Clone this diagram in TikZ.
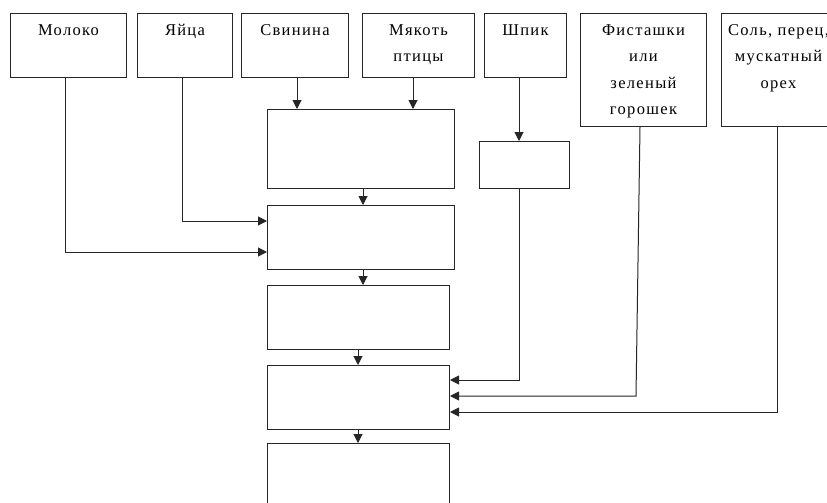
\documentclass[tikz,border=0pt]{standalone}
\usepackage{fontspec}
\setmainfont[LetterSpace=8]{Liberation Serif}
\usetikzlibrary{arrows.meta}
\tikzset{
  box/.style={draw=black!85, line width=1pt, fill=white, inner sep=0pt, anchor=north west},
  lbl/.style={anchor=north, inner sep=0pt, align=center, font=\fontsize{16.5}{26.5}\selectfont},
  conn/.style={draw=black!85, line width=1pt},
  arr/.style={conn, -{Triangle[length=9pt,width=9pt]}, shorten >=0pt}
}
\newcommand{\bx}[5]{\node[box, minimum width=#4-#2, minimum height=#5-#3] (#1) at (#2,#3) {};}
\begin{document}
\begin{tikzpicture}[x=1pt,y=-1pt]
\useasboundingbox (0,0) rectangle (827,503);
\clip (0,0) rectangle (827,503);
\fill[white] (0,0) rectangle (827,503);
% input boxes
\bx{moloko}{10}{13}{126}{77}
\bx{yaica}{137}{13}{232}{77}
\bx{svinina}{241}{13}{348}{77}
\bx{myakot}{362}{13}{474}{77}
\bx{shpik}{484}{13}{566}{77}
\bx{fist}{580}{13}{706}{126}
\bx{sol}{721}{13}{835}{126}
% process boxes
\bx{b1}{267}{109}{454}{188}
\bx{small}{479}{141}{569}{188}
\bx{b2}{267}{205}{454}{269}
\bx{b3}{267}{285}{449}{349}
\bx{b4}{267}{365}{449}{429}
\bx{b5}{267}{443}{449}{540}
% labels
\node[lbl] (tmoloko) at ([yshift=-11]moloko.north) {Молоко};
\node[lbl] (tyaica) at ([yshift=-11]yaica.north) {Яйца};
\node[lbl] (tsvinina) at ([yshift=-11]svinina.north) {Свинина};
\node[lbl] (tmyakot) at ([yshift=-11]myakot.north) {Мякоть\\птицы};
\node[lbl] (tshpik) at ([yshift=-11]shpik.north) {Шпик};
\node[lbl] (tfist) at ([yshift=-11]fist.north) {Фисташки\\или\\зеленый\\горошек};
\node[lbl] (tsol) at ([yshift=-11]sol.north) {Соль, перец,\\мускатный\\орех};
% connectors
\draw[arr] (moloko.south -| 65,0) |- (b2.west |- 0,252);
\draw[arr] (yaica.south -| 182,0) |- (b2.west |- 0,221);
\draw[arr] (svinina.south -| 297,0) -- (b1.north -| 297,0);
\draw[arr] (myakot.south -| 413,0) -- (b1.north -| 413,0);
\draw[arr] (b1.south -| 363,0) -- (b2.north -| 363,0);
\draw[arr] (shpik.south -| 519,0) -- (small.north -| 519,0);
\draw[arr] (b2.south -| 363,0) -- (b3.north -| 363,0);
\draw[arr] (b3.south -| 358,0) -- (b4.north -| 358,0);
\draw[arr] (b4.south -| 358,0) -- (b5.north -| 358,0);
\draw[arr] (small.south -| 519,0) |- (b4.east |- 0,380);
\coordinate (fbend) at (636,396);
\draw[arr] (fist.south -| 640,0) -- (fbend) -- (b4.east |- fbend);
\draw[arr] (sol.south -| 777,0) |- (b4.east |- 0,412);
\end{tikzpicture}
\end{document}
